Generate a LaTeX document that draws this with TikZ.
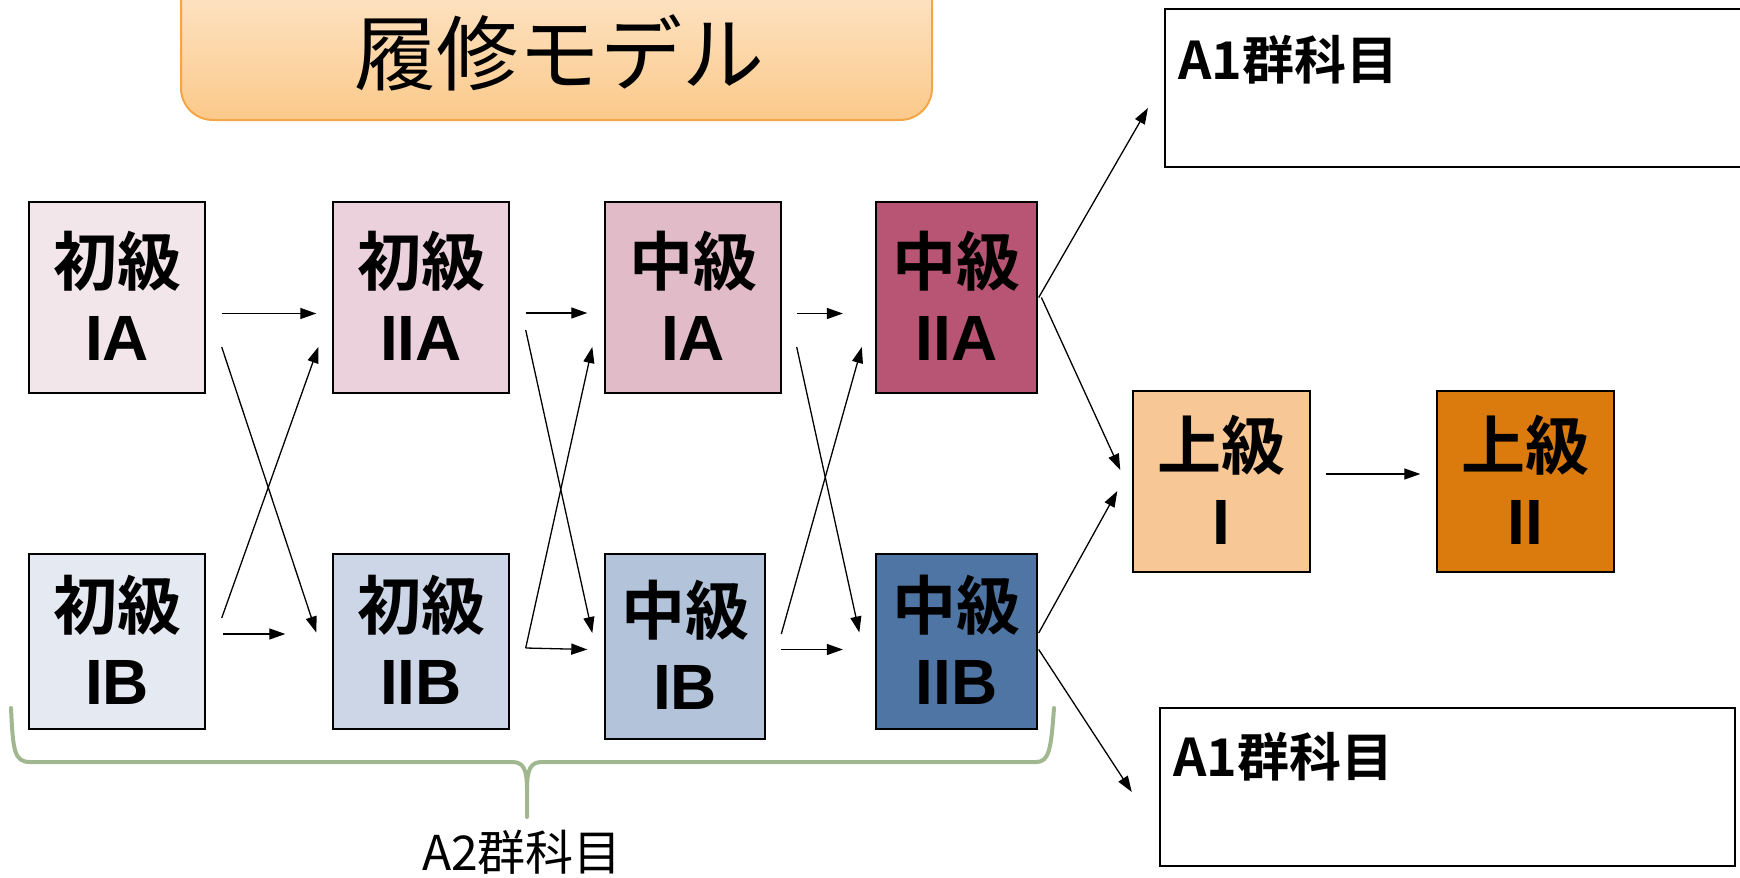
\documentclass[tikz,border=0pt]{standalone}
\usepackage{fontspec}
\newfontfamily\jp{Noto Sans CJK JP}[BoldFont={Noto Sans CJK JP Bold}]
\newfontfamily\lat{Liberation Sans}
\usetikzlibrary{arrows.meta}
\definecolor{cPa}{HTML}{F2E6EA}
\definecolor{cPb}{HTML}{EAD1DC}
\definecolor{cMa}{HTML}{E2BBC9}
\definecolor{cMb}{HTML}{B85474}
\definecolor{cQa}{HTML}{E5E9F1}
\definecolor{cQb}{HTML}{CDD6E6}
\definecolor{cNa}{HTML}{B3C3D9}
\definecolor{cNb}{HTML}{4E75A3}
\definecolor{cUa}{HTML}{F7C795}
\definecolor{cUb}{HTML}{DB7B0D}
\definecolor{tTop}{HTML}{FEEBD5}
\definecolor{tBot}{HTML}{FBC98A}
\definecolor{tBorder}{HTML}{F4A646}
\definecolor{braceGreen}{HTML}{A1B78F}
\newcommand\boxlabel[2]{{\jp\bfseries #1}\\{\lat\bfseries #2}\rule[-3pt]{0pt}{3pt}}
\begin{document}
\begin{tikzpicture}[x=1pt,y=-1pt,
  box/.style={draw=black, line width=1.4pt, inner sep=0pt, align=center,
    font=\fontsize{64}{75}\selectfont},
  abox/.style={draw=black, line width=1.4pt, fill=white, inner sep=0pt},
  atext/.style={inner sep=0pt, anchor=west, font=\jp\bfseries\fontsize{52}{60}\selectfont},
  arr/.style={line width=1.3pt, -{Triangle[length=16pt,width=11pt]}},
  brace/.style={draw=braceGreen, line width=4pt, line cap=round, line join=round},
  titlebox/.style={draw=tBorder, line width=2pt, rounded corners=32pt,
    top color=tTop, bottom color=tBot, inner sep=0pt},
  titletext/.style={inner sep=0pt, font=\jp\fontsize{82}{90}\selectfont}]
\useasboundingbox (0,0) rectangle (1740,878);
\clip (0,0) rectangle (1740,878);

% title
\node[titlebox, minimum width=751pt, minimum height=170pt] (title) at (556.5,35) {};
\node[titletext] (tt) at (559,53) {履修モデル};

% course boxes
\node[box, fill=cPa, minimum width=176pt, minimum height=191pt] (p1a) at (117,297.5) {\boxlabel{初級}{IA}};
\node[box, fill=cQa, minimum width=176pt, minimum height=175pt] (p1b) at (117,641.5) {\boxlabel{初級}{IB}};
\node[box, fill=cPb, minimum width=176pt, minimum height=191pt] (p2a) at (421,297.5) {\boxlabel{初級}{IIA}};
\node[box, fill=cQb, minimum width=176pt, minimum height=175pt] (p2b) at (421,641.5) {\boxlabel{初級}{IIB}};
\node[box, fill=cMa, minimum width=176pt, minimum height=191pt] (m1a) at (693,297.5) {\boxlabel{中級}{IA}};
\node[box, fill=cNa, minimum width=160pt, minimum height=185pt] (m1b) at (685,646.5) {\boxlabel{中級}{IB}};
\node[box, fill=cMb, minimum width=161pt, minimum height=191pt] (m2a) at (956.5,297.5) {\boxlabel{中級}{IIA}};
\node[box, fill=cNb, minimum width=161pt, minimum height=175pt] (m2b) at (956.5,641.5) {\boxlabel{中級}{IIB}};
\node[box, fill=cUa, minimum width=177pt, minimum height=181pt] (u1) at (1221.5,481.5) {\boxlabel{上級}{I}};
\node[box, fill=cUb, minimum width=177pt, minimum height=181pt] (u2) at (1525.5,481.5) {\boxlabel{上級}{II}};

% A1 boxes
\node[abox, minimum width=595pt, minimum height=158pt] (a1t) at (1462.5,88) {};
\node[atext] (a1tt) at (1178,60) {A1群科目};
\node[abox, minimum width=575pt, minimum height=158pt] (a1b) at (1447.5,787) {};
\node[atext] (a1bt) at (1173,757) {A1群科目};

% arrows
\draw[arr] ([shift={(16,16)}]p1a.east) -- ([shift={(-16,16)}]p2a.west);
\draw[arr] ([shift={(16,49.5)}]p1a.east) -- ([shift={(-16,-9)}]p2b.west);
\draw[arr] ([shift={(16,-23.5)}]p1b.east) -- ([shift={(-14,49.5)}]p2a.west);
\draw[arr] ([shift={(17,-7.5)}]p1b.east) -- ([shift={(-47,-7.5)}]p2b.west);
\draw[arr] ([shift={(16,15.5)}]p2a.east) -- ([shift={(-17,15.5)}]m1a.west);
\draw[arr] ([shift={(16,32.5)}]p2a.east) -- ([shift={(-12,-13.5)}]m1b.west);
\draw[arr] ([shift={(16,6.5)}]p2b.east) -- ([shift={(-12,49.5)}]m1a.west);
\draw[arr] ([shift={(16,6.5)}]p2b.east) -- ([shift={(-17,3)}]m1b.west);
\draw[arr] ([shift={(15,16)}]m1a.east) -- ([shift={(-32.4,16)}]m2a.west);
\draw[arr] ([shift={(15,49.5)}]m1a.east) -- ([shift={(-16,-9)}]m2b.west);
\draw[arr] ([shift={(15.6,-12.5)}]m1b.east) -- ([shift={(-13.5,49.5)}]m2a.west);
\draw[arr] ([shift={(15,3)}]m1b.east) -- ([shift={(-32.4,8)}]m2b.west);
\draw[arr] ([shift={(1,0)}]m2a.east) -- ([shift={(-16.4,20)}]a1t.west);
\draw[arr] ([shift={(3.7,0)}]m2a.east) -- ([shift={(-12,-11.5)}]u1.west);
\draw[arr] ([shift={(1,-8.5)}]m2b.east) -- ([shift={(-15,9.5)}]u1.west);
\draw[arr] ([shift={(1,8)}]m2b.east) -- ([shift={(-27.5,5)}]a1b.west);
\draw[arr] ([shift={(15,-7.5)}]u1.east) -- ([shift={(-16,-7.5)}]u2.west);

% brace
\draw[brace] (11,708) .. controls (13,750) and (14,762) .. (30,762) -- (512,762)
  .. controls (524,762) and (527,770) .. (527,790) -- (527,817);
\draw[brace] (527,790) .. controls (527,770) and (530,762) .. (542,762) -- (1036,762)
  .. controls (1049,762) and (1051,750) .. (1054,708);
\node[inner sep=0pt, font=\jp\fontsize{48}{54}\selectfont] (a2) at (522,852) {A2群科目};
\end{tikzpicture}
\end{document}
